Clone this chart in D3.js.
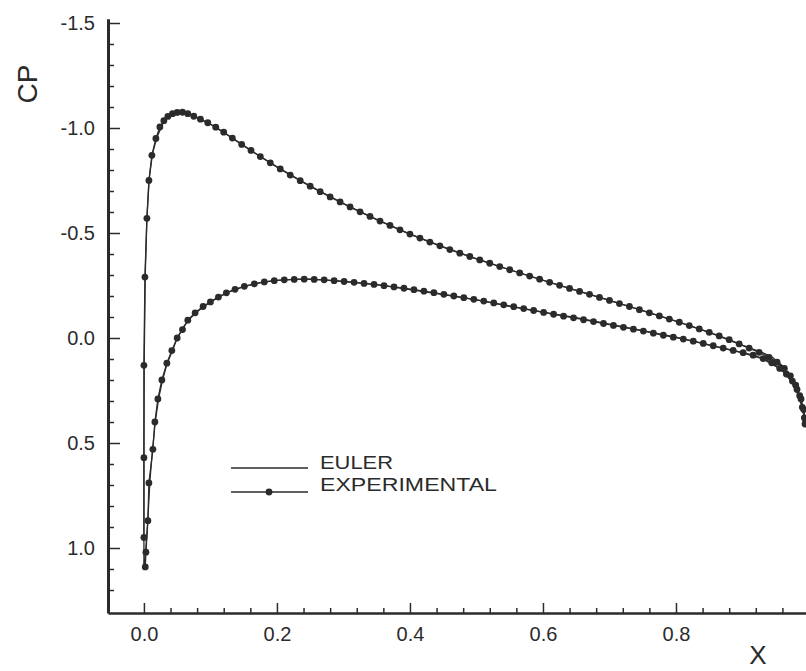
<!DOCTYPE html>
<html>
<head>
<meta charset="utf-8">
<script src="https://cdn.jsdelivr.net/npm/d3@7"></script>
<style>
  html, body { margin: 0; padding: 0; background: #ffffff; }
  svg { display: block; }
  text { font-family: "Liberation Sans", Arial, Helvetica, sans-serif; fill: #2b2b2b; }
</style>
</head>
<body>
<svg id="chart" width="806" height="671"></svg>
<script>
// ---------- data (x/c, Cp) ----------
const xMajorTicks = [0.0, 0.2, 0.4, 0.6, 0.8];
const xMinorTicks = [0.04,0.08,0.12,0.16,0.24,0.28,0.32,0.36,0.44,0.48,0.52,0.56,0.64,0.68,0.72,0.76,0.84,0.88,0.92,0.96];
const yMajorTicks = [-1.5, -1.0, -0.5, 0.0, 0.5, 1.0];
const yMinorTicks = [-1.4,-1.3,-1.2,-1.1,-0.9,-0.8,-0.7,-0.6,-0.4,-0.3,-0.2,-0.1,0.1,0.2,0.3,0.4,0.6,0.7,0.8,0.9,1.1,1.2];
const legendLabels = ["EULER", "EXPERIMENTAL"];

const eulerUpper = [
  [0.000,1.09],[0.000,0.60],[0.0005,0.10],[0.002,-0.30],[0.0045,-0.57],[0.008,-0.76],[0.013,-0.88],
  [0.020,-0.96],[0.030,-1.030],[0.040,-1.064],[0.050,-1.077],[0.060,-1.075],[0.080,-1.048],
  [0.100,-1.018],[0.125,-0.968],[0.150,-0.916],[0.175,-0.864],[0.200,-0.815],[0.250,-0.723],
  [0.300,-0.640],[0.350,-0.564],[0.400,-0.495],[0.450,-0.434],[0.500,-0.377],[0.550,-0.325],
  [0.600,-0.275],[0.650,-0.227],[0.700,-0.179],[0.750,-0.130],[0.800,-0.080],[0.850,-0.027],
  [0.900,0.035],[0.930,0.070],[0.945,0.092],[0.960,0.132],[0.970,0.170],[0.980,0.225],
  [0.990,0.330],[0.995,0.420]
];
const eulerLower = [
  [0.000,1.09],[0.003,1.00],[0.006,0.86],[0.009,0.68],[0.013,0.53],[0.017,0.40],[0.022,0.29],
  [0.028,0.20],[0.035,0.12],[0.043,0.06],[0.050,0.00],[0.060,-0.055],[0.070,-0.095],[0.080,-0.125],
  [0.100,-0.172],[0.125,-0.216],[0.150,-0.245],[0.175,-0.264],[0.200,-0.274],[0.225,-0.279],
  [0.250,-0.280],[0.300,-0.270],[0.350,-0.254],[0.400,-0.230],[0.450,-0.207],[0.500,-0.182],
  [0.550,-0.151],[0.600,-0.123],[0.650,-0.097],[0.700,-0.066],[0.750,-0.035],[0.800,-0.004],
  [0.850,0.034],[0.900,0.071],[0.930,0.098],[0.950,0.135],[0.965,0.170],[0.975,0.215],
  [0.985,0.280],[0.992,0.350],[0.995,0.420]
];

const expUpper = [
  [0.000,0.95],[0.000,0.57],[0.000,0.13],[0.0015,-0.29],[0.0045,-0.57],[0.0075,-0.75],[0.012,-0.87],
  [0.018,-0.95],[0.024,-1.005],[0.030,-1.035],[0.036,-1.055],[0.043,-1.068],[0.050,-1.074],
  [0.058,-1.075],[0.066,-1.068],[0.075,-1.056],[0.085,-1.042],[0.096,-1.025],[0.108,-1.004],
  [0.120,-0.980],[0.133,-0.952],[0.147,-0.922],[0.161,-0.893],[0.175,-0.864],[0.190,-0.834],
  [0.205,-0.805],[0.220,-0.776],[0.235,-0.749],[0.250,-0.723],[0.265,-0.697],[0.280,-0.672],
  [0.295,-0.648],[0.310,-0.624],[0.325,-0.601],[0.340,-0.579],[0.355,-0.557],[0.370,-0.536],
  [0.385,-0.515],[0.400,-0.495],[0.415,-0.476],[0.430,-0.457],[0.445,-0.439],[0.460,-0.421],
  [0.475,-0.404],[0.490,-0.388],[0.505,-0.372],[0.520,-0.356],[0.535,-0.340],[0.550,-0.325],
  [0.565,-0.310],[0.580,-0.295],[0.595,-0.280],[0.610,-0.265],[0.625,-0.251],[0.640,-0.236],
  [0.655,-0.222],[0.670,-0.208],[0.685,-0.193],[0.700,-0.179],[0.715,-0.164],[0.730,-0.150],
  [0.745,-0.135],[0.760,-0.120],[0.775,-0.105],[0.790,-0.090],[0.805,-0.075],[0.820,-0.059],
  [0.835,-0.043],[0.850,-0.027],[0.865,-0.010],[0.880,0.008],[0.895,0.028],[0.910,0.048],
  [0.925,0.068],[0.940,0.092],[0.952,0.115],[0.963,0.145],[0.972,0.180],[0.980,0.225],
  [0.986,0.275],[0.990,0.330],[0.993,0.380],[0.994,0.410]
];
const expLower = [
  [0.002,1.09],[0.003,1.02],[0.006,0.87],[0.0075,0.69],[0.0135,0.53],[0.0165,0.40],[0.021,0.29],
  [0.027,0.20],[0.0345,0.12],[0.042,0.06],[0.050,0.00],[0.058,-0.04],[0.066,-0.085],[0.077,-0.12],
  [0.089,-0.15],[0.100,-0.172],[0.112,-0.195],[0.124,-0.215],[0.137,-0.232],[0.151,-0.246],
  [0.166,-0.258],[0.181,-0.267],[0.196,-0.273],[0.211,-0.277],[0.226,-0.279],[0.241,-0.280],
  [0.256,-0.279],[0.271,-0.277],[0.286,-0.273],[0.301,-0.269],[0.316,-0.265],[0.331,-0.260],
  [0.346,-0.255],[0.361,-0.249],[0.376,-0.243],[0.391,-0.237],[0.406,-0.230],[0.421,-0.223],
  [0.436,-0.216],[0.451,-0.208],[0.466,-0.200],[0.481,-0.192],[0.496,-0.184],[0.511,-0.176],
  [0.526,-0.167],[0.541,-0.158],[0.556,-0.149],[0.571,-0.140],[0.586,-0.131],[0.601,-0.122],
  [0.616,-0.113],[0.631,-0.104],[0.646,-0.096],[0.661,-0.087],[0.676,-0.078],[0.691,-0.069],
  [0.706,-0.060],[0.721,-0.051],[0.736,-0.042],[0.751,-0.033],[0.766,-0.023],[0.781,-0.013],
  [0.796,-0.004],[0.811,0.005],[0.826,0.015],[0.841,0.026],[0.856,0.037],[0.871,0.048],
  [0.886,0.059],[0.901,0.070],[0.916,0.082],[0.931,0.098],[0.944,0.118],[0.956,0.145],
  [0.966,0.172],[0.975,0.205],[0.982,0.245],[0.988,0.290],[0.992,0.340],[0.995,0.400]
];

// ---------- layout ----------
const svg = d3.select("#chart");
const ink = "#2b2b2b";

const x = d3.scaleLinear().domain([-0.054, 1.0]).range([108, 809]);
const y = d3.scaleLinear().domain([-1.52, 1.31]).range([18.8, 613.1]);

const fmt = d => d.toFixed(1);

// curves
const line = d3.line().x(d => x(d[0])).y(d => y(d[1]));
const plot = svg.append("g");

[eulerUpper, eulerLower].forEach(s => {
  plot.append("path").attr("d", line(s)).attr("fill", "none")
    .attr("stroke", ink).attr("stroke-width", 1.3);
});
[expUpper, expLower].forEach(s => {
  plot.append("path").attr("d", line(s)).attr("fill", "none")
    .attr("stroke", ink).attr("stroke-width", 1.3);
  plot.selectAll(null).data(s).enter().append("circle")
    .attr("cx", d => x(d[0])).attr("cy", d => y(d[1])).attr("r", 3.4)
    .attr("fill", ink);
});

// y axis
const yAxis = svg.append("g").attr("transform", "translate(108,0)")
  .call(d3.axisLeft(y).tickValues(yMajorTicks).tickFormat(fmt).tickSizeInner(-12).tickSizeOuter(0).tickPadding(13));
svg.append("g").attr("transform", "translate(108,0)")
  .call(d3.axisLeft(y).tickValues(yMinorTicks).tickFormat("").tickSizeInner(-6).tickSizeOuter(0))
  .call(g => g.select(".domain").remove());
// x axis
const xAxis = svg.append("g").attr("transform", "translate(0,613)")
  .call(d3.axisBottom(x).tickValues(xMajorTicks).tickFormat(fmt).tickSizeInner(-10).tickSizeOuter(0).tickPadding(14));
svg.append("g").attr("transform", "translate(0,613)")
  .call(d3.axisBottom(x).tickValues(xMinorTicks).tickFormat("").tickSizeInner(-5).tickSizeOuter(0))
  .call(g => g.select(".domain").remove());

svg.selectAll(".tick line").attr("stroke", ink).attr("stroke-width", 1.5);
yAxis.select(".domain").attr("stroke", ink).attr("stroke-width", 3);
xAxis.select(".domain").attr("stroke", ink).attr("stroke-width", 2.5);
svg.selectAll(".tick text").attr("font-size", 20).attr("fill", ink)
  .style("font-family", "'Liberation Sans', Arial, sans-serif");

// axis titles
svg.append("text").attr("transform", "translate(37,84) rotate(-90)")
  .attr("text-anchor", "middle").attr("font-size", 28).text("CP");
svg.append("text").attr("x", 758).attr("y", 664)
  .attr("text-anchor", "middle").attr("font-size", 26).text("X");

// legend
const lg = svg.append("g");
const legendRows = [468, 492];
const legendTextY = [469, 491];
legendLabels.forEach((lab, i) => {
  const ly = legendRows[i];
  lg.append("line").attr("x1", 231).attr("x2", 308).attr("y1", ly).attr("y2", ly)
    .attr("stroke", ink).attr("stroke-width", 1.3);
  if (i === 1) {
    lg.append("circle").attr("cx", 269).attr("cy", ly).attr("r", 3.4).attr("fill", ink);
  }
  lg.append("text").attr("x", 320).attr("y", legendTextY[i])
    .attr("font-size", 19).attr("textLength", i === 0 ? 73 : 177).attr("lengthAdjust", "spacingAndGlyphs")
    .text(lab);
});
</script>
</body>
</html>
